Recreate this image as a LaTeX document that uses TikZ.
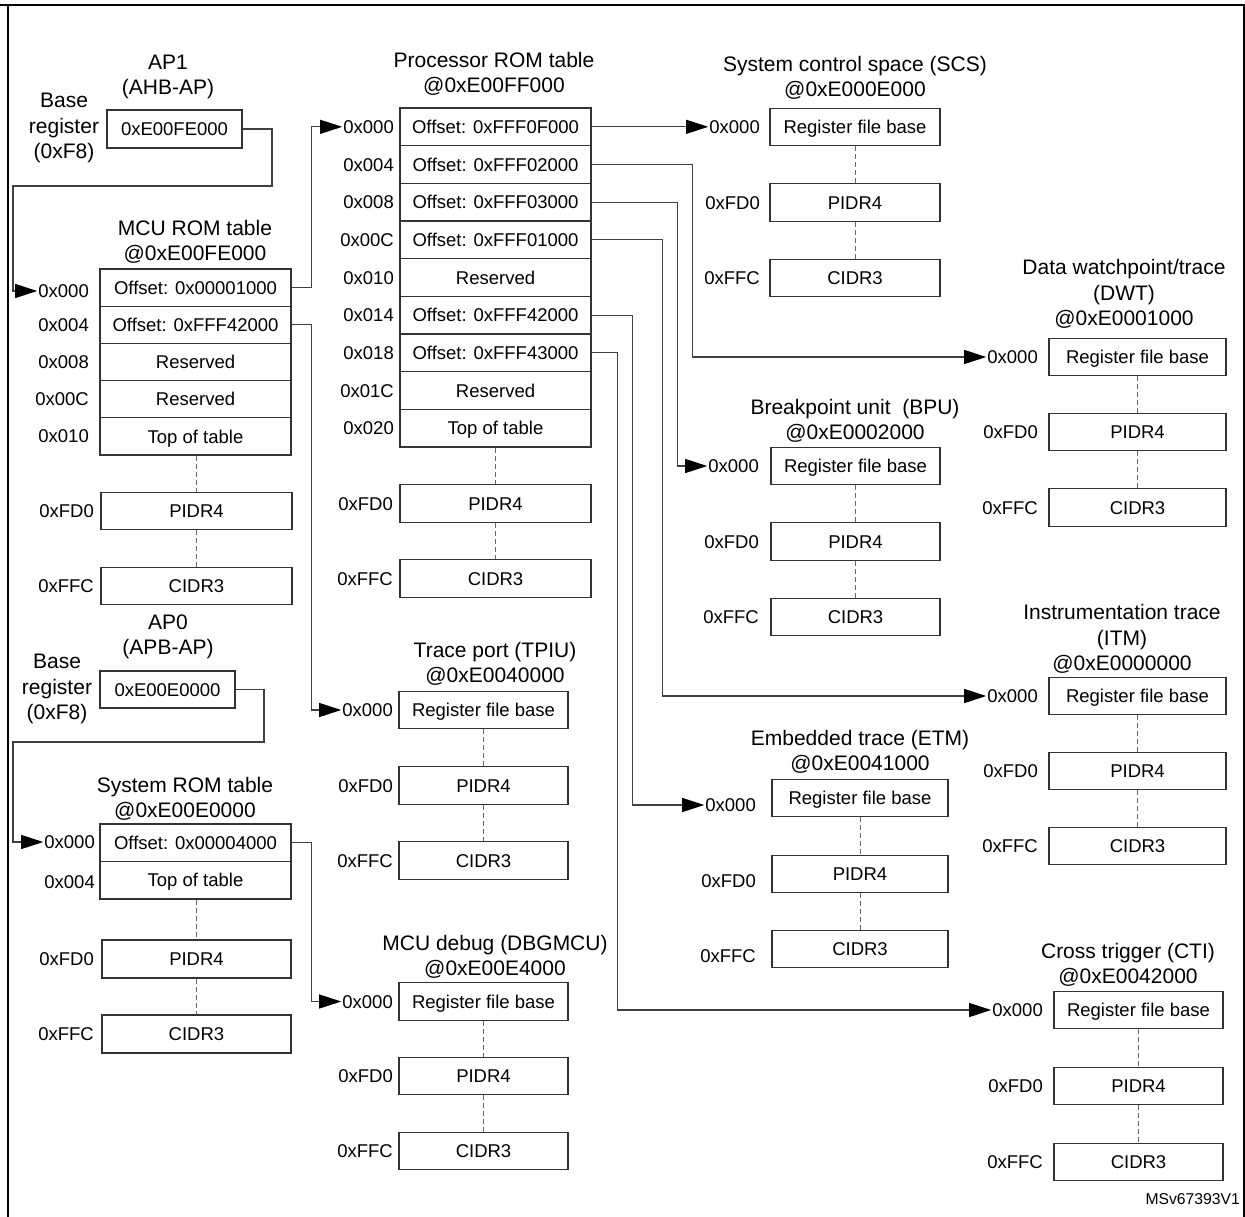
\documentclass[tikz,border=0pt]{standalone}
\usepackage{fontspec}
\setmainfont{Liberation Sans}
\usetikzlibrary{arrows.meta}
\newcommand\myfs{\fontsize{18.5}{22}\selectfont}
\newcommand\myft{\fontsize{21}{25.5}\selectfont}
\newcommand\myfm{\fontsize{15.7}{18}\selectfont}
% component block: #1 prefix, #2 cx, #3 width, #4/#5/#6 box centre y, #7 label east x, #8 label y shift
\newcommand\compblk[8]{%
  \node[regbox,minimum width=#3pt] (#1a) at (#2,#4) {Register file base};
  \node[regbox,minimum width=#3pt] (#1b) at (#2,#5) {PIDR4};
  \node[regbox,minimum width=#3pt] (#1c) at (#2,#6) {CIDR3};
  \node[lab] (#1La) at (#7,{#4+#8}) {0x000};
  \node[lab] (#1Lb) at (#7,{#5+#8}) {0xFD0};
  \node[lab] (#1Lc) at (#7,{#6+#8}) {0xFFC};
  \draw[dsh] (#1a.south) -- (#1b.north);
  \draw[dsh] (#1b.south) -- (#1c.north);
}
\tikzset{
  regbox/.style={draw=black!80, line width=1.2pt, minimum height=37.5pt, inner sep=0pt,
    font=\myfs, text height=13.3pt, text depth=0pt, anchor=center},
  lab/.style={font=\myfs, inner sep=1pt, text height=13.3pt, text depth=0pt, anchor=east},
  ttl/.style={font=\myft, align=center, inner sep=0pt},
  dsh/.style={draw=black!60, line width=0.9pt, dash pattern=on 5pt off 3pt},
  conn/.style={draw=black!75, line width=1.1pt},
  arr/.style={conn, -{Triangle[length=22pt,width=14pt,color=black,fill=black]}},
  frame/.style={draw=black, line width=1.6pt}
}
\begin{document}
\begin{tikzpicture}[x=1pt,y=-1pt]
\useasboundingbox (0,0) rectangle (1245,1217);
% frame
\draw[frame] (0,5) -- (1245,5);
\draw[frame] (8,5) -- (8,1217);
\draw[frame] (1244,5) -- (1244,1217);

% ---------- AP1 ----------
\node[ttl] (ap1t) at (168,77) {AP1\\(AHB-AP)};
\node[ttl] (base1) at (64,128) {Base\\register\\(0xF8)};
\node[regbox,minimum width=135pt,minimum height=38pt] (ap1) at (174.5,129) {0xE00FE000};

% ---------- MCU ROM table ----------
\node[ttl] (mcut) at (195,242) {MCU ROM table\\@0xE00FE000};
\foreach \t/\l/\yy [count=\i from 0] in {Offset: 0x00001000/0x000/291, Offset: 0xFFF42000/0x004/325,
  Reserved/0x008/362, Reserved/0x00C/399, Top of table/0x010/436}{
  \node[regbox,minimum width=191pt,minimum height=37.2pt] (mcu\i) at (195.5,{269+37.2*\i+18.6}) {\t};
  \node[lab] (mcuL\i) at (90,\yy) {\l};
}
\node[regbox,minimum width=191pt] (mcup) at (196.5,511) {PIDR4};
\node[regbox,minimum width=191pt] (mcuc) at (196.5,586) {CIDR3};
\node[lab] (mcuLp) at (95,511) {0xFD0};
\node[lab] (mcuLc) at (95,586) {0xFFC};
\draw[dsh] (mcu4.south -| mcup.north) -- (mcup.north);
\draw[dsh] (mcup.south) -- (mcuc.north);

% ---------- AP0 ----------
\node[ttl] (ap0t) at (168,637) {AP0\\(APB-AP)};
\node[ttl] (base0) at (57,689) {Base\\register\\(0xF8)};
\node[regbox,minimum width=135pt,minimum height=37pt] (ap0) at (167.5,689.5) {0xE00E0000};

% ---------- System ROM table ----------
\node[ttl] (syst) at (185,799) {System ROM table\\@0xE00E0000};
\node[regbox,minimum width=191pt] (sys0) at (195.5,842.75) {Offset: 0x00004000};
\node[regbox,minimum width=191pt] (sys1) at (195.5,880.25) {Top of table};
\node[lab] (sysL0) at (96,842) {0x000};
\node[lab] (sysL1) at (96,882) {0x004};
\node[regbox,minimum width=189pt,minimum height=38pt] (sysp) at (196.5,959) {PIDR4};
\node[regbox,minimum width=189pt,minimum height=38pt] (sysc) at (196.5,1034) {CIDR3};
\node[lab] (sysLp) at (95,959) {0xFD0};
\node[lab] (sysLc) at (95,1034) {0xFFC};
\draw[dsh] (sys1.south -| sysp.north) -- (sysp.north);
\draw[dsh] (sysp.south) -- (sysc.north);

% ---------- Processor ROM table ----------
\node[ttl] (proct) at (494,74) {Processor ROM table\\@0xE00FF000};
\foreach \t/\l [count=\i from 0] in {Offset: 0xFFF0F000/0x000, Offset: 0xFFF02000/0x004,
  Offset: 0xFFF03000/0x008, Offset: 0xFFF01000/0x00C, Reserved/0x010, Offset: 0xFFF42000/0x014,
  Offset: 0xFFF43000/0x018, Reserved/0x01C, Top of table/0x020}{
  \node[regbox,minimum width=191pt,minimum height=37.67pt] (proc\i) at (495.5,{108+37.67*\i+18.83}) {\t};
  \node[lab] (procL\i) at (395,{108+37.67*\i+18.83}) {\l};
}
\node[regbox,minimum width=191pt] (procp) at (495.5,503.5) {PIDR4};
\node[regbox,minimum width=191pt] (procc) at (495.5,578.5) {CIDR3};
\node[lab] (procLp) at (394,503.5) {0xFD0};
\node[lab] (procLc) at (394,578.5) {0xFFC};
\draw[dsh] (proc8.south) -- (procp.north);
\draw[dsh] (procp.south) -- (procc.north);

% ---------- component blocks ----------
\node[ttl] (scst) at (855,78) {System control space (SCS)\\@0xE000E000};
\compblk{scs}{855}{170}{127}{202.5}{278}{761}{0}

\node[ttl] (dwtt) at (1124,294) {Data watchpoint/trace\\(DWT)\\@0xE0001000};
\compblk{dwt}{1137.5}{177}{357}{432}{507.5}{1039}{0}

\node[ttl] (bput) at (855,421) {Breakpoint unit\ \ (BPU)\\@0xE0002000};
\compblk{bpu}{855.5}{169}{466}{541.5}{617}{760}{0}

\node[ttl] (itmt) at (1122,639) {Instrumentation trace\\(ITM)\\@0xE0000000};
\compblk{itm}{1137.5}{177}{696}{771}{846}{1039}{0}

\node[ttl] (etmt) at (860,752) {Embedded trace (ETM)\\@0xE0041000};
\compblk{etm}{860}{176}{798}{874}{949}{757}{7}

\node[ttl] (ctit) at (1128,965) {Cross trigger (CTI)\\@0xE0042000};
\compblk{cti}{1138.5}{169}{1010}{1086}{1162}{1044}{0}

\node[ttl] (tpiut) at (495,664) {Trace port (TPIU)\\@0xE0040000};
\compblk{tpiu}{483.5}{169}{710}{785.5}{860.5}{394}{0}

\node[ttl] (dbgt) at (495,957) {MCU debug (DBGMCU)\\@0xE00E4000};
\compblk{dbg}{483.5}{169}{1001.5}{1076}{1151}{394}{0}

\node[font=\myfm, anchor=east, inner sep=0pt] (msv) at (1240,1199) {MSv67393V1};

% ---------- connectors ----------
\draw[arr] (ap1.east) -| (272,186) -- (13,186) |- (mcuL0.west);
\draw[arr] (mcu0.east) -- ++(20,0) |- (procL0.west);
\draw[arr] (mcu1.east) -- ++(20,0) |- (tpiuLa.west);
\draw[arr] (ap0.east) -| (264,742) -- (13,742) |- (sysL0.west);
\draw[arr] (sys0.east) -- ++(20,0) |- (dbgLa.west);
\draw[arr] (proc0.east) -- (proc0.east -| scsLa.west);
\draw[arr] (proc1.east) -- ++(101,0) |- (dwtLa.west);
\draw[arr] (proc2.east) -- ++(86,0) |- (bpuLa.west);
\draw[arr] (proc3.east) -- ++(71,0) |- (itmLa.west);
\draw[arr] (proc5.east) -- ++(41,0) |- (etmLa.west);
\draw[arr] (proc6.east) -- ++(26,0) |- (ctiLa.west);
\end{tikzpicture}
\end{document}
